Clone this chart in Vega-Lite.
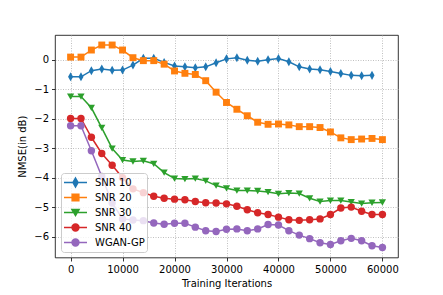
{
  "$schema": "https://vega.github.io/schema/vega-lite/v6.json",
  "width": 343,
  "height": 222.5,
  "autosize": {"type": "none"},
  "padding": {"left": 55, "top": 35, "right": 45, "bottom": 37.5},
  "background": "white",
  "config": {
    "font": "DejaVu Sans",
    "view": {"stroke": "#000", "strokeWidth": 0.8},
    "axis": {
      "domain": false, "grid": true, "gridColor": "#b0b0b0", "gridDash": [1, 1.5], "gridWidth": 0.8,
      "tickColor": "#000", "tickSize": 3.5, "tickWidth": 0.8,
      "labelFont": "DejaVu Sans", "labelFontSize": 10, "labelColor": "#000", "labelPadding": 3,
      "titleFont": "DejaVu Sans", "titleFontSize": 10, "titleFontWeight": "normal", "titleColor": "#000"
    }
  },
  "datasets": {
    "curves": [
      {"series": "SNR 10", "iter": 0, "nmse": -0.58}, {"series": "SNR 10", "iter": 2000, "nmse": -0.58},
      {"series": "SNR 10", "iter": 4000, "nmse": -0.37}, {"series": "SNR 10", "iter": 6000, "nmse": -0.31},
      {"series": "SNR 10", "iter": 8000, "nmse": -0.36}, {"series": "SNR 10", "iter": 10000, "nmse": -0.35},
      {"series": "SNR 10", "iter": 12000, "nmse": -0.18}, {"series": "SNR 10", "iter": 14000, "nmse": 0.05},
      {"series": "SNR 10", "iter": 16000, "nmse": 0.05}, {"series": "SNR 10", "iter": 18000, "nmse": -0.09},
      {"series": "SNR 10", "iter": 20000, "nmse": -0.21}, {"series": "SNR 10", "iter": 22000, "nmse": -0.24},
      {"series": "SNR 10", "iter": 24000, "nmse": -0.27}, {"series": "SNR 10", "iter": 26000, "nmse": -0.24},
      {"series": "SNR 10", "iter": 28000, "nmse": -0.10}, {"series": "SNR 10", "iter": 30000, "nmse": 0.03},
      {"series": "SNR 10", "iter": 32000, "nmse": 0.07}, {"series": "SNR 10", "iter": 34000, "nmse": -0.02},
      {"series": "SNR 10", "iter": 36000, "nmse": -0.05}, {"series": "SNR 10", "iter": 38000, "nmse": 0.0},
      {"series": "SNR 10", "iter": 40000, "nmse": 0.04}, {"series": "SNR 10", "iter": 42000, "nmse": -0.07},
      {"series": "SNR 10", "iter": 44000, "nmse": -0.24}, {"series": "SNR 10", "iter": 46000, "nmse": -0.31},
      {"series": "SNR 10", "iter": 48000, "nmse": -0.34}, {"series": "SNR 10", "iter": 50000, "nmse": -0.40},
      {"series": "SNR 10", "iter": 52000, "nmse": -0.47}, {"series": "SNR 10", "iter": 54000, "nmse": -0.53},
      {"series": "SNR 10", "iter": 56000, "nmse": -0.54}, {"series": "SNR 10", "iter": 58000, "nmse": -0.53},

      {"series": "SNR 20", "iter": 0, "nmse": 0.09}, {"series": "SNR 20", "iter": 2000, "nmse": 0.09},
      {"series": "SNR 20", "iter": 4000, "nmse": 0.33}, {"series": "SNR 20", "iter": 6000, "nmse": 0.50},
      {"series": "SNR 20", "iter": 8000, "nmse": 0.50}, {"series": "SNR 20", "iter": 10000, "nmse": 0.33},
      {"series": "SNR 20", "iter": 12000, "nmse": 0.07}, {"series": "SNR 20", "iter": 14000, "nmse": -0.03},
      {"series": "SNR 20", "iter": 16000, "nmse": -0.03}, {"series": "SNR 20", "iter": 18000, "nmse": -0.15},
      {"series": "SNR 20", "iter": 20000, "nmse": -0.38}, {"series": "SNR 20", "iter": 22000, "nmse": -0.46},
      {"series": "SNR 20", "iter": 24000, "nmse": -0.50}, {"series": "SNR 20", "iter": 26000, "nmse": -0.71},
      {"series": "SNR 20", "iter": 28000, "nmse": -1.10}, {"series": "SNR 20", "iter": 30000, "nmse": -1.45},
      {"series": "SNR 20", "iter": 32000, "nmse": -1.68}, {"series": "SNR 20", "iter": 34000, "nmse": -1.90},
      {"series": "SNR 20", "iter": 36000, "nmse": -2.12}, {"series": "SNR 20", "iter": 38000, "nmse": -2.19},
      {"series": "SNR 20", "iter": 40000, "nmse": -2.18}, {"series": "SNR 20", "iter": 42000, "nmse": -2.21},
      {"series": "SNR 20", "iter": 44000, "nmse": -2.27}, {"series": "SNR 20", "iter": 46000, "nmse": -2.27},
      {"series": "SNR 20", "iter": 48000, "nmse": -2.30}, {"series": "SNR 20", "iter": 50000, "nmse": -2.45},
      {"series": "SNR 20", "iter": 52000, "nmse": -2.65}, {"series": "SNR 20", "iter": 54000, "nmse": -2.71},
      {"series": "SNR 20", "iter": 56000, "nmse": -2.69}, {"series": "SNR 20", "iter": 58000, "nmse": -2.67},
      {"series": "SNR 20", "iter": 60000, "nmse": -2.71},

      {"series": "SNR 30", "iter": 0, "nmse": -1.25}, {"series": "SNR 30", "iter": 2000, "nmse": -1.25},
      {"series": "SNR 30", "iter": 4000, "nmse": -1.63}, {"series": "SNR 30", "iter": 6000, "nmse": -2.31},
      {"series": "SNR 30", "iter": 8000, "nmse": -3.01}, {"series": "SNR 30", "iter": 10000, "nmse": -3.40},
      {"series": "SNR 30", "iter": 12000, "nmse": -3.45}, {"series": "SNR 30", "iter": 14000, "nmse": -3.43},
      {"series": "SNR 30", "iter": 16000, "nmse": -3.53}, {"series": "SNR 30", "iter": 18000, "nmse": -3.83},
      {"series": "SNR 30", "iter": 20000, "nmse": -4.03}, {"series": "SNR 30", "iter": 22000, "nmse": -4.05},
      {"series": "SNR 30", "iter": 24000, "nmse": -4.03}, {"series": "SNR 30", "iter": 26000, "nmse": -4.11},
      {"series": "SNR 30", "iter": 28000, "nmse": -4.27}, {"series": "SNR 30", "iter": 30000, "nmse": -4.36},
      {"series": "SNR 30", "iter": 32000, "nmse": -4.44}, {"series": "SNR 30", "iter": 34000, "nmse": -4.44},
      {"series": "SNR 30", "iter": 36000, "nmse": -4.45}, {"series": "SNR 30", "iter": 38000, "nmse": -4.49},
      {"series": "SNR 30", "iter": 40000, "nmse": -4.55}, {"series": "SNR 30", "iter": 42000, "nmse": -4.52},
      {"series": "SNR 30", "iter": 44000, "nmse": -4.54}, {"series": "SNR 30", "iter": 46000, "nmse": -4.70},
      {"series": "SNR 30", "iter": 48000, "nmse": -4.81}, {"series": "SNR 30", "iter": 50000, "nmse": -4.78},
      {"series": "SNR 30", "iter": 52000, "nmse": -4.78}, {"series": "SNR 30", "iter": 54000, "nmse": -4.83},
      {"series": "SNR 30", "iter": 56000, "nmse": -4.88}, {"series": "SNR 30", "iter": 58000, "nmse": -4.85},
      {"series": "SNR 30", "iter": 60000, "nmse": -4.84},

      {"series": "SNR 40", "iter": 0, "nmse": -1.99}, {"series": "SNR 40", "iter": 2000, "nmse": -1.99},
      {"series": "SNR 40", "iter": 4000, "nmse": -2.63}, {"series": "SNR 40", "iter": 6000, "nmse": -3.18},
      {"series": "SNR 40", "iter": 8000, "nmse": -3.58}, {"series": "SNR 40", "iter": 10000, "nmse": -4.00},
      {"series": "SNR 40", "iter": 12000, "nmse": -4.38}, {"series": "SNR 40", "iter": 14000, "nmse": -4.51},
      {"series": "SNR 40", "iter": 16000, "nmse": -4.63}, {"series": "SNR 40", "iter": 18000, "nmse": -4.70},
      {"series": "SNR 40", "iter": 20000, "nmse": -4.73}, {"series": "SNR 40", "iter": 22000, "nmse": -4.75},
      {"series": "SNR 40", "iter": 24000, "nmse": -4.81}, {"series": "SNR 40", "iter": 26000, "nmse": -4.85},
      {"series": "SNR 40", "iter": 28000, "nmse": -4.86}, {"series": "SNR 40", "iter": 30000, "nmse": -4.89},
      {"series": "SNR 40", "iter": 32000, "nmse": -4.97}, {"series": "SNR 40", "iter": 34000, "nmse": -5.09},
      {"series": "SNR 40", "iter": 36000, "nmse": -5.19}, {"series": "SNR 40", "iter": 38000, "nmse": -5.25},
      {"series": "SNR 40", "iter": 40000, "nmse": -5.34}, {"series": "SNR 40", "iter": 42000, "nmse": -5.43},
      {"series": "SNR 40", "iter": 44000, "nmse": -5.45}, {"series": "SNR 40", "iter": 46000, "nmse": -5.43},
      {"series": "SNR 40", "iter": 48000, "nmse": -5.40}, {"series": "SNR 40", "iter": 50000, "nmse": -5.25},
      {"series": "SNR 40", "iter": 52000, "nmse": -5.03}, {"series": "SNR 40", "iter": 54000, "nmse": -5.00},
      {"series": "SNR 40", "iter": 56000, "nmse": -5.14}, {"series": "SNR 40", "iter": 58000, "nmse": -5.25},
      {"series": "SNR 40", "iter": 60000, "nmse": -5.25},

      {"series": "WGAN-GP", "iter": 0, "nmse": -2.24}, {"series": "WGAN-GP", "iter": 2000, "nmse": -2.24},
      {"series": "WGAN-GP", "iter": 4000, "nmse": -3.09}, {"series": "WGAN-GP", "iter": 6000, "nmse": -3.96},
      {"series": "WGAN-GP", "iter": 8000, "nmse": -4.86}, {"series": "WGAN-GP", "iter": 10000, "nmse": -5.40},
      {"series": "WGAN-GP", "iter": 12000, "nmse": -5.44}, {"series": "WGAN-GP", "iter": 14000, "nmse": -5.46},
      {"series": "WGAN-GP", "iter": 16000, "nmse": -5.54}, {"series": "WGAN-GP", "iter": 18000, "nmse": -5.58},
      {"series": "WGAN-GP", "iter": 20000, "nmse": -5.55}, {"series": "WGAN-GP", "iter": 22000, "nmse": -5.55},
      {"series": "WGAN-GP", "iter": 24000, "nmse": -5.68}, {"series": "WGAN-GP", "iter": 26000, "nmse": -5.80},
      {"series": "WGAN-GP", "iter": 28000, "nmse": -5.83}, {"series": "WGAN-GP", "iter": 30000, "nmse": -5.75},
      {"series": "WGAN-GP", "iter": 32000, "nmse": -5.74}, {"series": "WGAN-GP", "iter": 34000, "nmse": -5.80},
      {"series": "WGAN-GP", "iter": 36000, "nmse": -5.74}, {"series": "WGAN-GP", "iter": 38000, "nmse": -5.59},
      {"series": "WGAN-GP", "iter": 40000, "nmse": -5.61}, {"series": "WGAN-GP", "iter": 42000, "nmse": -5.80},
      {"series": "WGAN-GP", "iter": 44000, "nmse": -5.95}, {"series": "WGAN-GP", "iter": 46000, "nmse": -6.07},
      {"series": "WGAN-GP", "iter": 48000, "nmse": -6.21}, {"series": "WGAN-GP", "iter": 50000, "nmse": -6.27},
      {"series": "WGAN-GP", "iter": 52000, "nmse": -6.14}, {"series": "WGAN-GP", "iter": 54000, "nmse": -6.06},
      {"series": "WGAN-GP", "iter": 56000, "nmse": -6.14}, {"series": "WGAN-GP", "iter": 58000, "nmse": -6.31},
      {"series": "WGAN-GP", "iter": 60000, "nmse": -6.37}
    ]
  },
  "data": {"name": "curves"},
  "encoding": {
    "x": {
      "field": "iter", "type": "quantitative",
      "scale": {"domain": [-3000, 63000], "nice": false, "zero": false},
      "axis": {"values": [0, 10000, 20000, 30000, 40000, 50000, 60000], "format": "d", "title": "Training Iterations", "labelFlush": false, "titlePadding": 4}
    },
    "y": {
      "field": "nmse", "type": "quantitative",
      "scale": {"domain": [-6.71, 0.84], "nice": false, "zero": false},
      "axis": {"values": [-6, -5, -4, -3, -2, -1, 0], "labelExpr": "replace(datum.label, '-', '−')", "title": "NMSE(in dB)", "titlePadding": 6}
    },
    "color": {
      "field": "series", "type": "nominal",
      "scale": {"domain": ["SNR 10", "SNR 20", "SNR 30", "SNR 40", "WGAN-GP"], "range": ["#1f77b4", "#ff7f0e", "#2ca02c", "#d62728", "#9467bd"]},
      "legend": {
        "title": null, "orient": "bottom-left", "offset": 6,
        "fillColor": "rgba(255,255,255,0.8)", "strokeColor": "#cccccc", "cornerRadius": 3,
        "padding": 2, "symbolSize": 529, "clipHeight": 15, "rowPadding": 0,
        "labelFont": "DejaVu Sans", "labelFontSize": 10, "labelColor": "#000", "labelOffset": 7,
        "symbolStrokeWidth": 1.5,
        "encode": {
          "symbols": {
            "update": {
              "shape": {"signal": "datum.value === 'SNR 10' ? 'M-1,0L1,0M0,-0.39L0.22,0L0,0.39L-0.22,0Z' : datum.value === 'SNR 20' ? 'M-1,0L1,0M-0.29,-0.29L0.29,-0.29L0.29,0.29L-0.29,0.29Z' : datum.value === 'SNR 30' ? 'M-1,0L1,0M-0.31,-0.26L0.31,-0.26L0,0.27Z' : 'M-1,0L1,0M0.3,0A0.3,0.3,0,1,1,-0.3,0A0.3,0.3,0,1,1,0.3,0Z'"},
              "stroke": {"scale": "color", "field": "value"},
              "fill": {"scale": "color", "field": "value"},
              "strokeWidth": {"value": 1.5},
              "opacity": {"value": 1},
              "size": {"value": 529}
            }
          }
        }
      }
    }
  },
  "layer": [
    {"mark": {"type": "line", "strokeWidth": 1.5}},
    {"transform": [{"filter": "datum.series === 'SNR 10'"}], "mark": {"type": "point", "filled": true, "opacity": 1, "size": 52, "shape": "M0,-1.25L0.7,0L0,1.25L-0.7,0Z"}},
    {"transform": [{"filter": "datum.series === 'SNR 20'"}], "mark": {"type": "point", "filled": true, "opacity": 1, "size": 48, "shape": "square"}},
    {"transform": [{"filter": "datum.series === 'SNR 30'"}], "mark": {"type": "point", "filled": true, "opacity": 1, "size": 52, "shape": "M-1,-0.85L1,-0.85L0,0.9Z"}},
    {"transform": [{"filter": "datum.series === 'SNR 40'"}], "mark": {"type": "point", "filled": true, "opacity": 1, "size": 55, "shape": "circle"}},
    {"transform": [{"filter": "datum.series === 'WGAN-GP'"}], "mark": {"type": "point", "filled": true, "opacity": 1, "size": 55, "shape": "circle"}}
  ]
}
